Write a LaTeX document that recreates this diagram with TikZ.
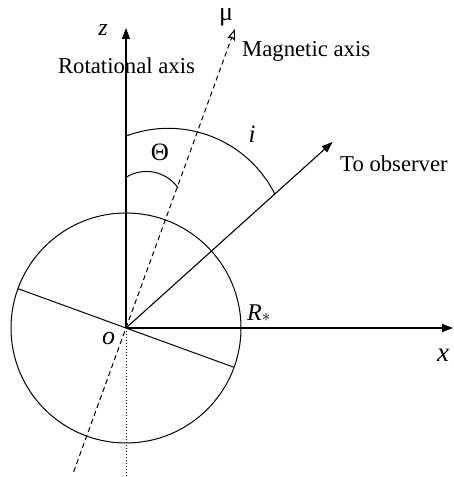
\documentclass[tikz,border=0pt]{standalone}
\usepackage{fontspec}
\setmainfont{Liberation Serif}
\usepackage{tikz}
\usetikzlibrary{arrows.meta}

\begin{document}
\begin{tikzpicture}[
  x=1pt, y=1pt,
  eje/.style={line width=1.1pt, -{Triangle[length=11pt, width=8pt]}},
  magnetico/.style={line width=1pt, dash pattern=on 5pt off 3.5pt,
               -{Stealth[open, length=11pt, width=8pt, inset=2pt, line width=1pt]}},
  linea/.style={line width=1pt},
  rotulo/.style={inner sep=0pt, anchor=base, font=\fontsize{22.7}{27}\selectfont},
  simbolo/.style={inner sep=0pt, anchor=base, font=\fontsize{25}{30}\selectfont}
]
\useasboundingbox (0,0) rectangle (453,477);

\coordinate (O) at (126,149);
\coordinate (ztip) at (126,449);
\coordinate (xtip) at (453,149);
\coordinate (mutip) at ([shift={(70:318)}]O);
\coordinate (mubot) at ([shift={(250:153)}]O);
\coordinate (obs) at ([shift={(42:278)}]O);
\coordinate (dizq) at ([shift={(160:115)}]O);
\coordinate (dder) at ([shift={(-20:115)}]O);
\coordinate (fondo) at (126,0);

% estrella y ejes
\draw[linea] (O) circle[radius=115];
\draw[linea] (dizq) -- (dder);
\draw[eje] (O) -- (ztip);
\draw[eje] (O) -- (xtip);
\draw[eje] (O) -- (obs);
\draw[magnetico] (mubot) -- (mutip);
\draw[line width=0.9pt, dash pattern=on 1pt off 2pt] (O) -- (fondo);

% angulos
\draw[linea] (126.5,300) arc[start angle=121, end angle=35, radius=38.7];
\draw[linea] (125.9,340.9) arc[start angle=110.8, end angle=26.7, radius=119.3];

% etiquetas
\node[rotulo] (rot) at (126.5,403) {Rotational axis};
\node[rotulo, anchor=base west] (mag) at (242,420) {Magnetic axis};
\node[rotulo, anchor=base west] (obslbl) at (340,305) {To observer};
\node[simbolo, font=\fontsize{24}{28}\selectfont] (zlbl) at (103,441) {\textit{z}};
\node[simbolo, font=\fontsize{27}{32}\selectfont] (xlbl) at (443,115) {\textit{x}};
\node[simbolo, font=\fontsize{26}{30}\selectfont] (olbl) at (108.5,132) {\textit{o}};
\node[simbolo, font=\fontsize{26}{30}\selectfont] (mulbl) at (226,456) {μ};
\node[simbolo] (ilbl) at (252,334) {\textit{i}};
\node[simbolo] (thlbl) at (160,316) {Θ};
\node[simbolo, anchor=base west, font=\fontsize{24}{28}\selectfont] (rlbl) at (247,156)
  {\textit{R}\raisebox{-1pt}{\fontsize{16}{16}\selectfont$\ast$}};
\end{tikzpicture}
\end{document}
